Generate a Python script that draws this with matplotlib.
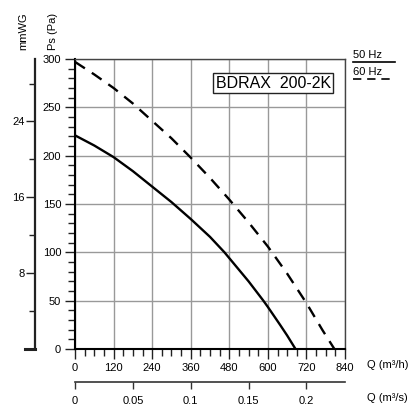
import matplotlib.pyplot as plt
from matplotlib.lines import Line2D
import numpy as np

plt.rcParams['font.family'] = ['Liberation Sans', 'DejaVu Sans']

# fan curve: Q in m3/h, Ps in Pa
q50 = [0, 60, 120, 180, 240, 300, 360, 420, 465, 480, 540, 586, 600, 638, 660, 686]
ps50 = [221, 210.5, 198.5, 184, 168, 152, 134.5, 116, 100, 94, 70, 50, 43.5, 25, 14, 0]
q60 = [0, 60, 120, 180, 240, 300, 360, 420, 480, 540, 600, 660, 720, 770, 807]
ps60 = [297, 284, 270, 254, 236, 218, 198, 177, 154.6, 131, 106, 78, 47.5, 19.5, 0]

q_ticks = [0, 120, 240, 360, 480, 600, 720, 840]
ps_ticks = [0, 50, 100, 150, 200, 250, 300]
mmwg_ticks = [8, 16, 24]
qs_ticks = [0, 0.05, 0.1, 0.15, 0.2]
qs_labels = ['0', '0.05', '0.1', '0.15', '0.2']
model = 'BDRAX  200-2K'

W, H = 420, 416
fig = plt.figure(figsize=(4.2, 4.16), dpi=100)

def fx(px):
    return px / W

def fy(py):
    return 1 - py / H

left, right, top, bot = 75, 345, 59, 349
ax = fig.add_axes([fx(left), fy(bot), fx(right - left), fy(top) - fy(bot)])
ax.plot(q50, ps50, color='black', lw=1.7, solid_joinstyle='round')
ax.plot(q60, ps60, color='black', lw=1.7, dashes=(5, 3.5))
ax.set_xlim(0, 840)
ax.set_ylim(0, 300)
ax.set_xticks(q_ticks)
ax.set_xticks(np.arange(0, 841, 30), minor=True)
ax.set_yticks(ps_ticks)
ax.set_yticks(np.arange(0, 301, 10), minor=True)
ax.grid(True, which='major', color='#999999', lw=1)
ax.tick_params(axis='both', which='major', length=7, width=1, labelsize=8, pad=3, color='#222222')
ax.tick_params(axis='both', which='minor', length=5, width=1, color='#222222')
for s in ['top', 'right']:
    ax.spines[s].set_color('#444444')
    ax.spines[s].set_linewidth(1)
ax.spines['left'].set_linewidth(1.5)
ax.spines['bottom'].set_linewidth(1.5)

# mmWG scale on the far left
axm = fig.add_axes([fx(35), fy(bot), 0.001, fy(top) - fy(bot)])
axm.set_ylim(0, 300 / 9.80665)
axm.set_xticks([])
for s in ['top', 'right', 'bottom']:
    axm.spines[s].set_visible(False)
axm.spines['left'].set_linewidth(1.6)
axm.spines['left'].set_color('#222222')
axm.set_yticks(mmwg_ticks)
axm.set_yticks([4, 12, 20, 28], minor=True)
axm.tick_params(axis='y', which='major', length=6.5, width=1, labelsize=8, pad=1, color='#222222')
axm.tick_params(axis='y', which='minor', length=4, width=1, color='#222222')
fig.add_artist(Line2D([fx(25), fx(35)], [fy(bot), fy(bot)], color='#222222', lw=2.2,
                      transform=fig.transFigure))

# m3/s scale below
axs = fig.add_axes([fx(left), fy(381.7), fx(right - left), 0.001])
axs.set_xlim(0, 840 / 3600)
axs.set_yticks([])
for s in ['top', 'right', 'left']:
    axs.spines[s].set_visible(False)
axs.spines['bottom'].set_color('#333333')
axs.spines['bottom'].set_linewidth(1.2)
axs.set_xticks(qs_ticks)
axs.set_xticklabels(qs_labels)
axs.tick_params(axis='x', direction='out', length=5, width=1, labelsize=8, pad=5, color='#333333')

fig.text(fx(367), fy(365), 'Q (m³/h)', fontsize=8, va='center', ha='left')
fig.text(fx(367), fy(398), 'Q (m³/s)', fontsize=8, va='center', ha='left')
fig.text(fx(23), fy(31), 'mmWG', fontsize=8, rotation=90, ha='center', va='center')
fig.text(fx(53), fy(31), 'Ps (Pa)', fontsize=8, rotation=90, ha='center', va='center')

ax.text(0.735, 0.917, model, transform=ax.transAxes, fontsize=11.5, ha='center', va='center',
        bbox=dict(boxstyle='square,pad=0.15', fc='white', ec='#222222', lw=1))

# legend
fig.text(fx(353), fy(55), '50 Hz', fontsize=8, ha='left', va='center')
fig.add_artist(Line2D([fx(353), fx(395)], [fy(62.3), fy(62.3)], color='black', lw=1.2,
                      transform=fig.transFigure))
fig.text(fx(353), fy(71.7), '60 Hz', fontsize=8, ha='left', va='center')
fig.add_artist(Line2D([fx(353), fx(395)], [fy(79.3), fy(79.3)], color='black', lw=1.2,
                      dashes=(5, 3.5), transform=fig.transFigure))

fig.savefig('out.png', dpi=100)
